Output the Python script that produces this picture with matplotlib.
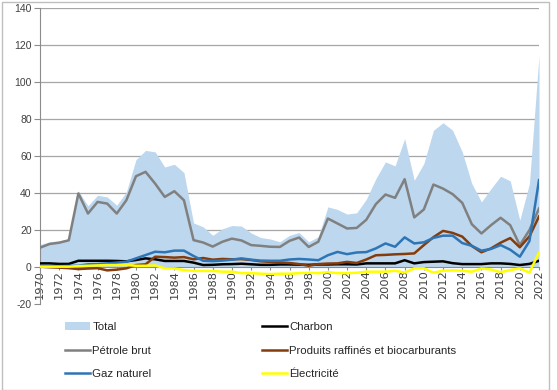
import matplotlib
matplotlib.use("Agg")
import matplotlib.pyplot as plt
from matplotlib.patches import Patch, Rectangle
from matplotlib.lines import Line2D

years = list(range(1970, 2023))

total = [12, 13.5, 14, 15, 41, 33, 38.7, 37.8, 33.3, 40.5,
         58, 63, 62.2, 54, 55.5, 51, 23.7, 21.6, 17, 20.5,
         22.3, 22, 18.3, 15.8, 15, 13.5, 17, 18.5, 13.5, 16.2,
         32.4, 31, 28.5, 29.2, 36.5, 47.7, 56.8, 54.6, 69.4, 46.8,
         55.9, 73.9, 78, 73.9, 62.2, 45, 35.1, 42.3, 49, 46.5,
         25.2, 45, 114.5]

petrole = [10.3, 12.3, 13, 14.3, 39.7, 28.8, 35.1, 34.2, 28.8, 36,
           49, 51.4, 45, 37.8, 40.9, 36, 14.4, 13.1, 10.9, 13.5,
           15.2, 14.2, 11.7, 11.3, 10.8, 10.7, 14, 15.8, 10.7, 13.5,
           26.1, 23.4, 20.7, 21, 25.4, 33.9, 39.1, 37.3, 47.4, 26.7,
           31, 44.5, 42.3, 39.3, 34.6, 23, 18, 22.5, 26.5, 22.5,
           11.7, 19.8, 31.5]

gaz = [0.3, 0.3, 0.3, 0.4, 0.5, 1.3, 1.4, 1.8, 2.2, 2.7,
       4.5, 6.3, 8.1, 7.8, 8.7, 8.7, 5.8, 3.2, 3, 3.3,
       3.8, 4.5, 3.8, 3.3, 3.2, 3.2, 3.9, 4.2, 3.9, 3.5,
       6.2, 8, 6.8, 7.7, 7.9, 9.9, 12.6, 10.8, 15.9, 12.6,
       13.2, 15.6, 16.8, 16.8, 12.8, 11.3, 8.7, 9.6, 11.7, 9.2,
       5.4, 13.8, 46.9]

produits = [0, -0.3, -0.5, -0.8, -1.3, -1.0, -0.8, -2, -1.6, -0.9,
            0.9, 1.3, 5.4, 5.2, 4.9, 5.2, 4, 4.7, 3.8, 4.2,
            4, 4.1, 3.6, 2.9, 2.6, 2.3, 2, 1.4, 0.5, 1.4,
            1.7, 1.8, 2.6, 2, 3.9, 6.2, 6.4, 6.7, 6.9, 7.2,
            11.7, 16, 19.4, 18.3, 16.3, 11.2, 7.8, 9.9, 13, 15.5,
            10.5, 16.4, 27.2]

charbon = [1.8, 1.8, 1.5, 1.5, 3.2, 3.2, 3.2, 3.2, 3.1, 2.9,
           3.6, 4.5, 4, 3.1, 3.1, 3.1, 2.2, 0.9, 1.0, 1.3,
           1.4, 1.6, 1.3, 1.0, 1.0, 1.2, 1.2, 1.1, 1.0, 1.2,
           1.2, 1.3, 1.3, 1.2, 1.8, 1.8, 1.8, 1.8, 3.5, 1.8,
           2.5, 2.7, 2.9, 1.9, 1.4, 1.4, 1.4, 1.8, 1.8, 1.5,
           0.9, 1.5, 3.2]

electricite = [0, 0, 0, 0, 0.3, 0.5, 0.7, 0.9, 0.9, 0.9,
               0.5, 0.5, 0.7, -0.9, -1.0, -1.8, -2.3, -2.3, -2.3, -2.7,
               -2.7, -3.5, -3.5, -3.8, -4.0, -3.8, -3.8, -3.5, -3.3, -3.5,
               -3.0, -3.5, -3.5, -3.3, -2.7, -2.7, -2.7, -2.2, -3.2, -0.9,
               -0.9, -3.2, -2.2, -2.0, -2.2, -2.7, -1.0, -1.5, -3.0, -1.8,
               -0.9, -3.2, 7.7]

yticks = [-20, 0, 20, 40, 60, 80, 100, 120, 140]
xtick_years = list(range(1970, 2023, 2))

colors = {"Total": "#BDD7EE", "Charbon": "#000000", "Pétrole brut": "#808080",
          "Produits raffinés et biocarburants": "#843C0C",
          "Gaz naturel": "#2E75B6", "Électricité": "#FFFF00"}

plt.rcParams['font.family'] = ['Liberation Sans', 'DejaVu Sans']

fig = plt.figure(figsize=(5.57, 3.90), dpi=100)
ax = fig.add_axes([40/557, 1-303.6/390, 499/557, (303.6-8.3)/390])

ax.fill_between(years, 0, total, color=colors["Total"], lw=0, zorder=1)
series = [("Charbon", charbon), ("Pétrole brut", petrole),
          ("Produits raffinés et biocarburants", produits),
          ("Gaz naturel", gaz), ("Électricité", electricite)]
for name, vals in series:
    ax.plot(years, vals, color=colors[name], lw=1.8, zorder=3,
            solid_joinstyle='round')

ax.set_xlim(1970, 2022)
ax.set_ylim(-20, 140)
ax.set_yticks(yticks)
ax.set_yticklabels([str(v) for v in yticks], fontsize=7.5, color="#404040")
for v in yticks:
    if v > 0:
        ax.axhline(v, color="#A6A6A6", lw=0.9, zorder=0)

ax.spines['top'].set_visible(False)
ax.spines['right'].set_visible(False)
ax.spines['bottom'].set_position(('data', 0))
ax.spines['bottom'].set_color("#8C8C8C")
ax.spines['left'].set_color("#8C8C8C")
ax.spines['bottom'].set_zorder(2)
ax.set_xticks(xtick_years)
ax.set_xticklabels([str(y) for y in xtick_years], rotation=90, fontsize=8.2,
                   color="#404040", family=['DejaVu Sans'])
ax.tick_params(axis='x', length=2, color="#8C8C8C", pad=0.5)
ax.tick_params(axis='y', length=4, color="#8C8C8C", pad=2)

fs = 8.2
common = dict(loc='upper left', ncol=1, frameon=False, fontsize=fs,
              handlelength=2.2, handleheight=0.7, handletextpad=0.2,
              labelspacing=1.2, borderpad=0, borderaxespad=0,
              labelcolor="#262626")
h1 = [Patch(facecolor=colors["Total"], edgecolor='none'),
      Line2D([], [], color=colors["Pétrole brut"], lw=1.8),
      Line2D([], [], color=colors["Gaz naturel"], lw=1.8)]
l1 = ["Total", "Pétrole brut", "Gaz naturel"]
h2 = [Line2D([], [], color=colors["Charbon"], lw=1.8),
      Line2D([], [], color=colors["Produits raffinés et biocarburants"], lw=1.8),
      Line2D([], [], color=colors["Électricité"], lw=1.8)]
l2 = ["Charbon", "Produits raffinés et biocarburants", "Électricité"]
fig.legend(h1, l1, bbox_to_anchor=(65/557, 1-322/390), **common)
fig.legend(h2, l2, bbox_to_anchor=(262/557, 1-322/390), **common)

fig.add_artist(Rectangle((2/557, 0.5/390), 547/557, 388/390, transform=fig.transFigure,
                         fill=False, edgecolor="#BFBFBF", lw=1))

fig.savefig("out.png", dpi=100)
